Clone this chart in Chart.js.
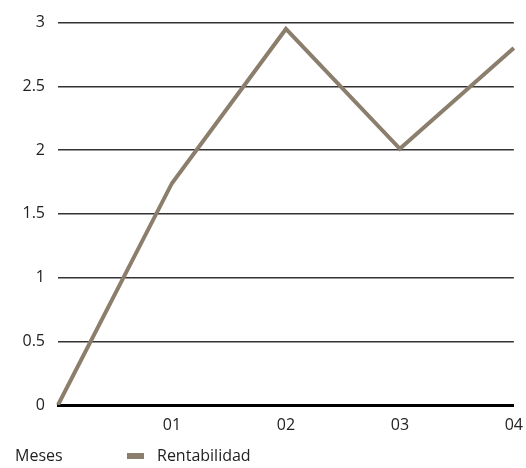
<!DOCTYPE html>
<html lang="es">
<head>
  <meta charset="UTF-8">
  <title>Rentabilidad</title>
  <script src="https://cdn.jsdelivr.net/npm/chart.js"></script>
  <style>
    html, body { margin: 0; padding: 0; background: #fff; }
    #wrap { width: 526px; height: 468px; }
  </style>
</head>
<body>
  <div id="wrap"><canvas id="chart" width="526" height="468"></canvas></div>
  <script>
    // data
    const meses = ['', '01', '02', '03', '04'];
    const rentabilidad = [0, 1.74, 2.95, 2.01, 2.8];
    const yTicks = [0, 0.5, 1, 1.5, 2, 2.5, 3];

    const FONT = '"Open Sans", "Noto Sans", sans-serif';
    const TEXT = '#222';
    const SIZE = 16;

    // bottom row: axis name on the left, then the series swatch
    const bottomLegend = {
      id: 'bottomLegend',
      afterDraw(chart) {
        const ctx = chart.ctx;
        const ds = chart.data.datasets[0];
        ctx.save();
        ctx.font = SIZE + 'px ' + FONT;
        ctx.fillStyle = TEXT;
        ctx.textBaseline = 'middle';
        ctx.fillText('Meses', 15, 456);
        ctx.fillStyle = ds.borderColor;
        ctx.fillRect(127, 453, 17, 6);
        ctx.fillStyle = TEXT;
        ctx.fillText(ds.label, 157, 456);
        ctx.restore();
      }
    };

    new Chart(document.getElementById('chart'), {
      type: 'line',
      data: {
        labels: meses,
        datasets: [{
          label: 'Rentabilidad',
          data: rentabilidad,
          borderColor: '#8b7e6c',
          borderWidth: 4,
          pointRadius: 0,
          tension: 0,
          fill: false
        }]
      },
      options: {
        responsive: false,
        animation: false,
        layout: { padding: { top: 12, right: 0, bottom: 30, left: 0 } },
        plugins: {
          legend: { display: false },
          tooltip: { enabled: false }
        },
        scales: {
          x: {
            offset: false,
            grid: { display: false },
            border: { display: true, color: '#000', width: 3 },
            ticks: { color: TEXT, font: { family: FONT, size: SIZE }, padding: 3, maxRotation: 0 },
            afterFit(scale) { scale.height = 33; }
          },
          y: {
            min: 0,
            max: 3,
            afterBuildTicks(scale) { scale.ticks = yTicks.map(v => ({ value: v })); },
            grid: {
              color: ctx => ctx.tick && ctx.tick.value === 0 ? '#000' : '#333',
              lineWidth: ctx => ctx.tick && ctx.tick.value === 0 ? 3 : 1.5,
              drawTicks: false
            },
            border: { display: false },
            ticks: {
              color: TEXT,
              font: { family: FONT, size: SIZE },
              padding: 13,
              callback: v => String(v)
            },
            afterFit(scale) { scale.width = 58; }
          }
        }
      },
      plugins: [bottomLegend]
    });
  </script>
</body>
</html>
